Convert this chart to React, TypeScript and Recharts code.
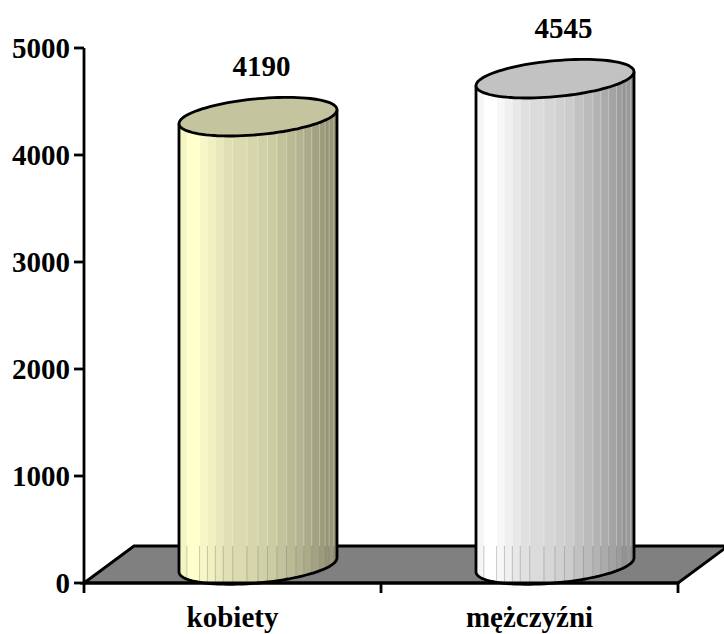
import { Bar, BarChart, LabelList, ReferenceArea, XAxis, YAxis } from "recharts";

const categories = ["kobiety", "mężczyźni"];
const values = [4190, 4545];
const yTicks = [0, 1000, 2000, 3000, 4000, 5000];

const bodyColors = ["#ffffcc", "#ffffff"];
const topColors = ["#c4c49e", "#c2c2c2"];

// band edges across the cylinder (fraction of width) and how bright each one is
const bandEdges = [0, 0.05, 0.13, 0.18, 0.23, 0.28, 0.34, 0.43, 0.5, 0.56, 0.62, 0.68, 0.74, 0.79, 0.84, 0.89, 0.925, 0.95, 0.98, 1];
const bandShade = [0.96, 1, 0.97, 0.94, 0.91, 0.88, 0.86, 0.84, 0.82, 0.8, 0.76, 0.73, 0.7, 0.67, 0.64, 0.61, 0.58, 0.6, 0.55];
const labelNudge = [-2.5, 2.5];

const data = categories.map((name, i) => ({ name, value: values[i], i }));

const FONT = "'Liberation Serif', 'Times New Roman', serif";
const FONT_SIZE = 29;
const DEPTH = 37; // floor depth on screen
const SKEW = 50;
const LIFT = 18; // cylinder sits in the middle of the floor
const SHIFT = 25;
const TILT = 7;
const MINOR = 18;
const LINE = 2.8;

function shade(hex: string, k: number) {
  const n = parseInt(hex.slice(1), 16);
  const c = (v: number) => Math.round(v * k).toString(16).padStart(2, "0");
  return "#" + c((n >> 16) & 255) + c((n >> 8) & 255) + c(n & 255);
}

function Floor(props: any) {
  const { x, y, width, height } = props;
  const bottom = y + height;
  const step = width / categories.length;
  const marks = categories.map((_, i) => i).concat(categories.length);
  return (
    <g>
      <path
        d={`M${x},${bottom} L${x + SKEW},${bottom - DEPTH} L${x + width + SKEW},${bottom - DEPTH} L${x + width},${bottom} Z`}
        fill="#808080"
        stroke="#000"
        strokeWidth={LINE}
      />
      {marks.map((m) => (
        <line key={m} x1={x + m * step} x2={x + m * step} y1={bottom} y2={bottom + 10} stroke="#000" strokeWidth={LINE} />
      ))}
    </g>
  );
}

function Cylinder(props: any) {
  const { x, y, width, height, payload } = props;
  const a = width / 2;
  const cx = x + a + SHIFT;
  const left = cx - a;
  const right = cx + a;
  const baseline = y + height;
  const topY = y - LIFT;
  const botY = baseline - LIFT;
  const id = "body" + payload.i;

  // sheared circle, front half only
  const front = (cy: number, t: number) => ({
    px: cx - a * Math.cos(t),
    py: cy + TILT * Math.cos(t) + MINOR * Math.sin(t),
  });
  const arc = (cy: number, rev: boolean) => {
    const pts = [];
    for (let k = 0; k <= 48; k++) {
      const t = (Math.PI * (rev ? 48 - k : k)) / 48;
      const p = front(cy, t);
      pts.push(`${p.px.toFixed(1)},${p.py.toFixed(1)}`);
    }
    return pts;
  };
  const backPts = [];
  for (let k = 0; k <= 48; k++) {
    const t = (Math.PI * k) / 48;
    backPts.push(`${(cx + a * Math.cos(t)).toFixed(1)},${(topY - TILT * Math.cos(t) - MINOR * Math.sin(t)).toFixed(1)}`);
  }
  const frontY = (cy: number, px: number) => {
    const u = (cx - px) / a;
    return cy + TILT * u + MINOR * Math.sqrt(Math.max(0, 1 - u * u));
  };

  const color = bodyColors[payload.i];
  const floorBack = baseline - DEPTH;
  const inner = bandEdges.slice(1, -1);

  return (
    <g>
      <defs>
        <linearGradient id={id} x1="0" x2="1" y1="0" y2="0">
          {bandShade.flatMap((k, b) => [
            <stop key={b + "a"} offset={bandEdges[b]} stopColor={shade(color, k)} />,
            <stop key={b + "b"} offset={bandEdges[b + 1]} stopColor={shade(color, k)} />,
          ])}
        </linearGradient>
      </defs>
      <path
        d={`M${left},${topY + TILT} L${left},${botY + TILT} L${arc(botY, false).join(" L")} L${right},${topY - TILT} L${arc(topY, true).join(" L")} Z`}
        fill={`url(#${id})`}
      />
      {inner.map((f) => {
        const px = left + f * width;
        return (
          <g key={f}>
            <line x1={px} x2={px} y1={frontY(topY, px)} y2={floorBack} stroke="#fff" strokeOpacity={0.3} strokeWidth={1} />
            <line x1={px} x2={px} y1={floorBack} y2={frontY(botY, px)} stroke="#808080" strokeOpacity={0.4} strokeWidth={1} />
          </g>
        );
      })}
      <path
        d={`M${left},${topY + TILT} L${left},${botY + TILT} L${arc(botY, false).join(" L")} L${right},${topY - TILT}`}
        fill="none"
        stroke="#000"
        strokeWidth={LINE}
      />
      <polygon
        points={arc(topY, false).concat(backPts).join(" ")}
        fill={topColors[payload.i]}
        stroke="#000"
        strokeWidth={LINE}
        strokeLinejoin="round"
      />
    </g>
  );
}

function ValueLabel(props: any) {
  const { x, y, width, value, index } = props;
  return (
    <text x={x + width / 2 + 31 + labelNudge[index]} y={y - 59} textAnchor="middle" fontFamily={FONT} fontWeight="bold" fontSize={FONT_SIZE} fill="#000">
      {value}
    </text>
  );
}

export default function App() {
  return (
    <div style={{ position: "absolute", left: 0, top: 0, width: 724, height: 634 }}>
      <BarChart
        width={724}
        height={634}
        data={data}
        margin={{ top: 48, right: 46, bottom: 0, left: 0 }}
        style={{ background: "#fff" }}
      >
        <XAxis
          dataKey="name"
          height={51}
          tickLine={false}
          stroke="#000"
          strokeWidth={LINE}
          tick={{ fill: "#000", fontFamily: FONT, fontWeight: "bold", fontSize: FONT_SIZE }}
          tickMargin={17}
        />
        <YAxis
          width={84}
          domain={[0, 5000]}
          ticks={yTicks}
          interval={0}
          stroke="#000"
          strokeWidth={LINE}
          tickSize={10}
          tick={{ fill: "#000", fontFamily: FONT, fontWeight: "bold", fontSize: FONT_SIZE }}
          tickMargin={4}
        />
        <ReferenceArea y1={0} y2={5000} ifOverflow="visible" shape={Floor} />
        <Bar dataKey="value" barSize={158} shape={Cylinder} isAnimationActive={false}>
          <LabelList dataKey="value" content={ValueLabel} />
        </Bar>
      </BarChart>
    </div>
  );
}
